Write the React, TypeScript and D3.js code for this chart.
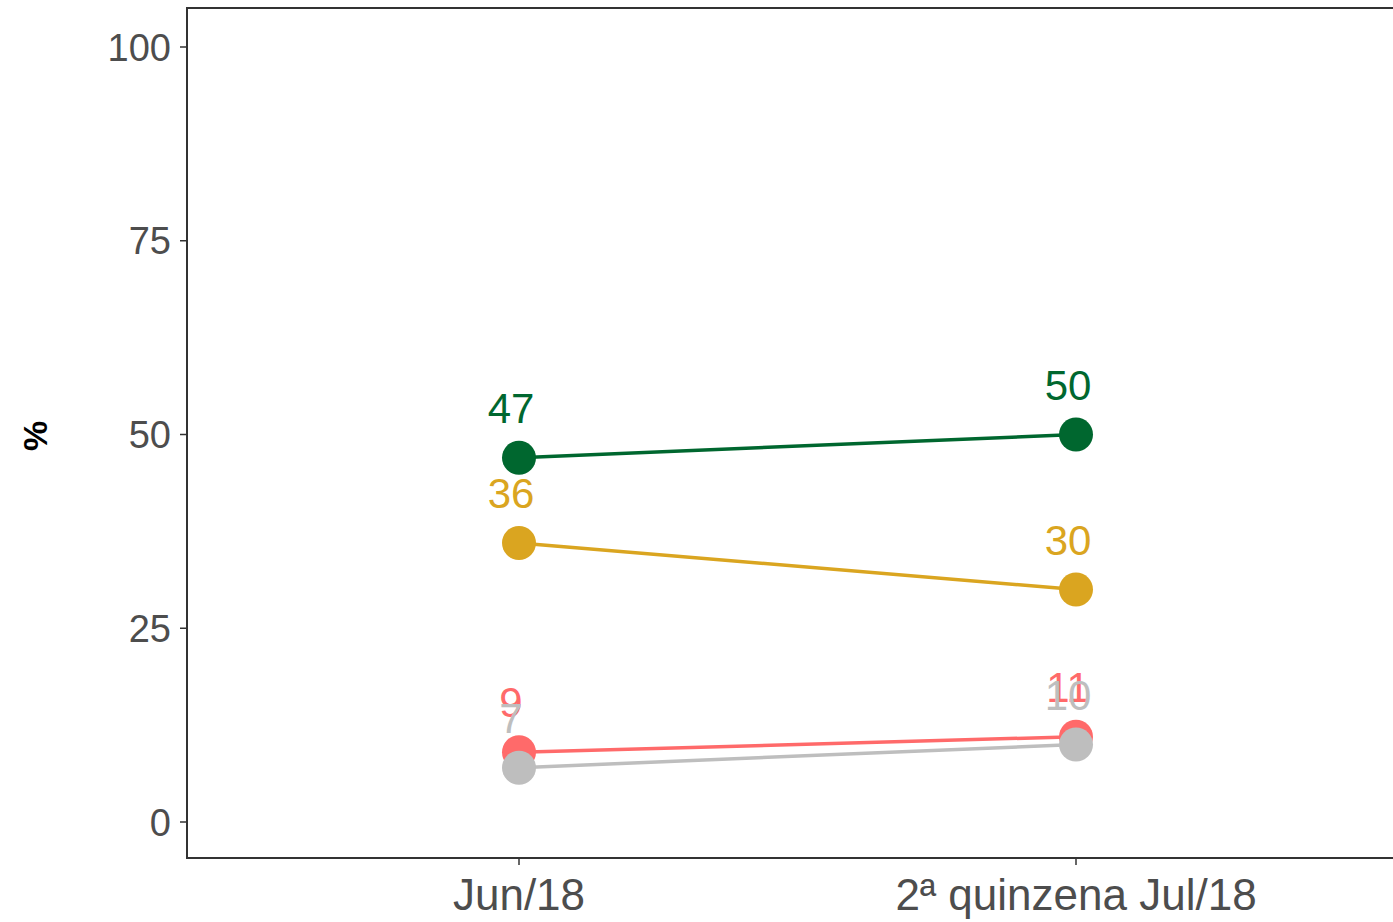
import React from "react";
import * as d3 from "d3";

const categories = ["Jun/18", "2ª quinzena Jul/18"];
const seriesNames = ["Verde", "Amarelo", "Vermelho", "Cinza"];
const seriesColors = ["#00672F", "#DAA520", "#FF6A6A", "#BEBEBE"];
const seriesValues = [
  [47, 50],
  [36, 30],
  [9, 11],
  [7, 10],
];
const yTicks = [0, 25, 50, 75, 100];

const W = 1393;
const H = 922;
const panel = { left: 187, top: 8, right: 1420, bottom: 858 };

export default function App() {
  const x = d3.scalePoint<string>().domain(categories).range([519, 1076]);
  const y = d3.scaleLinear().domain([0, 100]).range([822, 47]);
  const line = d3
    .line<number>()
    .x((_, i) => x(categories[i]) as number)
    .y((d) => y(d));
  const axisColor = "#333333";
  const textColor = "#4D4D4D";
  const font = "'Liberation Sans', Arial, sans-serif";

  return (
    <svg
      width={W}
      height={H}
      style={{ position: "absolute", left: 0, top: 0, background: "#fff" }}
      fontFamily={font}
    >
      <rect x={0} y={0} width={W} height={H} fill="#fff" />
      {yTicks.map((t) => (
        <g key={t}>
          <line x1={180} x2={panel.left} y1={y(t)} y2={y(t)} stroke={axisColor} strokeWidth={1.5} />
          <text x={171} y={y(t)} dy="0.36em" textAnchor="end" fontSize={38} fill={textColor}>
            {t}
          </text>
        </g>
      ))}
      {categories.map((c) => (
        <g key={c}>
          <line x1={x(c)} x2={x(c)} y1={panel.bottom} y2={panel.bottom + 7} stroke={axisColor} strokeWidth={1.5} />
          <text x={x(c)} y={910} textAnchor="middle" fontSize={44} fill={textColor}>
            {c}
          </text>
        </g>
      ))}
      <text
        transform={`translate(47,436) rotate(-90)`}
        textAnchor="middle"
        fontSize={34}
        fontWeight="bold"
        fill="#000"
      >
        %
      </text>
      {seriesValues.map((vals, s) => (
        <g key={seriesNames[s]}>
          <path d={line(vals) || ""} fill="none" stroke={seriesColors[s]} strokeWidth={3.5} />
          {vals.map((v, i) => (
            <circle key={i} cx={x(categories[i])} cy={y(v)} r={17} fill={seriesColors[s]} />
          ))}
        </g>
      ))}
      {seriesValues.map((vals, s) => (
        <g key={"lab" + seriesNames[s]}>
          {vals.map((v, i) => (
            <text
              key={i}
              x={(x(categories[i]) as number) - 8}
              y={y(v) - 35}
              textAnchor="middle"
              fontSize={42}
              fill={seriesColors[s]}
            >
              {v}
            </text>
          ))}
        </g>
      ))}
      <rect
        x={panel.left}
        y={panel.top}
        width={panel.right - panel.left}
        height={panel.bottom - panel.top}
        fill="none"
        stroke={axisColor}
        strokeWidth={2}
      />
    </svg>
  );
}
